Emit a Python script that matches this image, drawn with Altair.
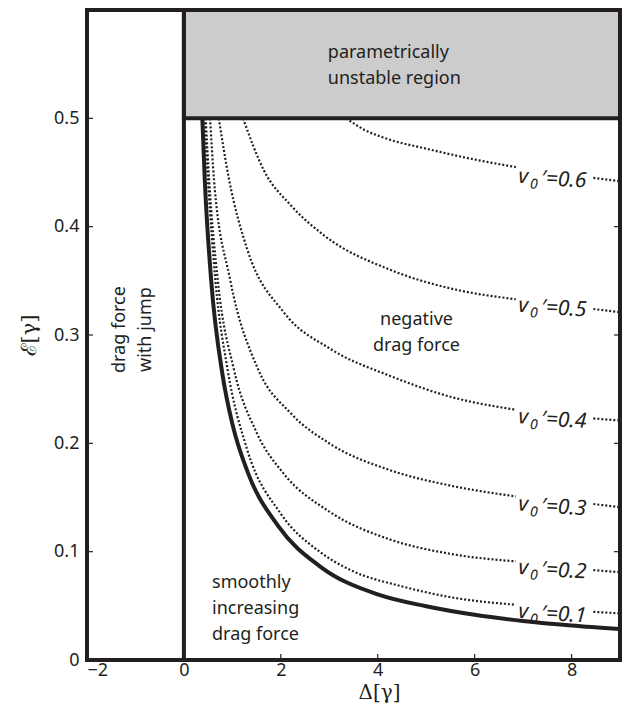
import altair as alt
import pandas as pd

INK = "#231f20"
FONT = "Noto Sans"

# ---- data ----
x_ticks = [-2, 0, 2, 4, 6, 8]
y_ticks = [0, 0.1, 0.2, 0.3, 0.4, 0.5]

# boundary curve (solid)
solid_delta = [0.38, 0.43, 0.56, 0.80, 1.00, 1.32, 1.94, 2.82, 4.0, 5.0, 6.0, 7.0, 8.0, 9.0]
solid_eps = [0.50, 0.444, 0.352, 0.2625, 0.218, 0.173, 0.124, 0.086, 0.0605, 0.0496, 0.0417, 0.036, 0.0318, 0.0285]

# dotted curves v0' = ...; part A before the label, part B after it
v_names = ["0.1", "0.2", "0.3", "0.4", "0.5", "0.6"]
v_delta_a = [
    [0.42, 0.50, 0.65, 0.90, 1.30, 2.00, 2.80, 3.44, 4.50, 5.50, 6.85],
    [0.45, 0.52, 0.70, 1.03, 1.50, 2.06, 3.00, 4.27, 5.50, 6.85],
    [0.54, 0.62, 0.95, 1.53, 2.20, 3.00, 4.27, 5.50, 6.85],
    [0.72, 0.93, 1.30, 2.06, 3.03, 4.27, 5.50, 6.85],
    [1.22, 1.65, 2.20, 2.89, 4.27, 5.50, 6.85],
    [3.35, 3.70, 4.20, 5.00, 6.00, 6.85],
]
v_eps_a = [
    [0.50, 0.44, 0.35, 0.2685, 0.195, 0.135, 0.100, 0.083, 0.068, 0.058, 0.051],
    [0.50, 0.444, 0.35, 0.2685, 0.21, 0.172, 0.137, 0.111, 0.098, 0.091],
    [0.50, 0.444, 0.352, 0.2685, 0.228, 0.200, 0.175, 0.161, 0.151],
    [0.50, 0.444, 0.38, 0.321, 0.287, 0.262, 0.243, 0.231],
    [0.50, 0.452, 0.42, 0.392, 0.360, 0.343, 0.333],
    [0.50, 0.490, 0.481, 0.472, 0.462, 0.455],
]
v_delta_b = [[8.45, 9.0]] * 6
v_eps_b = [
    [0.0445, 0.043],
    [0.083, 0.081],
    [0.144, 0.141],
    [0.223, 0.221],
    [0.324, 0.321],
    [0.445, 0.442],
]
label_delta = [6.9, 6.9, 6.9, 6.9, 6.9, 6.9]
label_eps = [0.0445, 0.085, 0.1435, 0.224, 0.327, 0.446]

regions = ["parametrically\nunstable region", "negative\ndrag force",
           "smoothly\nincreasing\ndrag force"]
region_delta = [2.97, 4.8, 0.58]
region_eps = [0.5603, 0.3138, 0.0713]
region_align = ["left", "center", "left"]

jump_text = ["drag force\nwith jump"]
jump_delta = [-1.32]
jump_eps = [0.305]

# ---- tables ----
solid_df = pd.DataFrame({"delta": solid_delta, "eps": solid_eps})
rows = []
for i, n in enumerate(v_names):
    for d, e in zip(v_delta_a[i], v_eps_a[i]):
        rows.append({"curve": n, "seg": n + "a", "delta": d, "eps": e})
    for d, e in zip(v_delta_b[i], v_eps_b[i]):
        rows.append({"curve": n, "seg": n + "b", "delta": d, "eps": e})
dot_df = pd.DataFrame(rows)
lab_df = pd.DataFrame({"delta": label_delta, "eps": label_eps,
                       "v": ["v"] * len(v_names), "sub": ["0"] * len(v_names),
                       "rest": ["\u2032=" + n for n in v_names]})
reg_df = pd.DataFrame({"delta": region_delta, "eps": region_eps, "text": regions,
                       "align": region_align})
jump_df = pd.DataFrame({"delta": jump_delta, "eps": jump_eps, "text": jump_text})
box_df = pd.DataFrame({"delta": [0], "delta2": [9], "eps": [0.5], "eps2": [0.6]})
vline_df = pd.DataFrame({"delta": [0]})
xt_df = pd.DataFrame({"delta": x_ticks})
yt_df = pd.DataFrame({"eps": [v for v in y_ticks if v > 0]})

W, H = 533, 650
xs = alt.Scale(domain=[-2, 9], nice=False, zero=False)
ys = alt.Scale(domain=[0, 0.6], nice=False, zero=False)

x_axis = alt.Axis(
    values=x_ticks, ticks=False, domain=False, grid=False,
    labelFont=FONT, labelFontSize=18, labelColor=INK, labelPadding=1,
    title="Δ[γ]", titleFont="DejaVu Serif", titleFontSize=20, titleFontWeight="normal",
    titleColor=INK, titlePadding=3, titleX=292)
y_axis = alt.Axis(
    values=y_ticks, ticks=False, domain=False, grid=False,
    labelExpr="datum.value == 0 ? '0' : format(datum.value, '.1f')",
    labelFont=FONT, labelFontSize=18, labelColor=INK, labelPadding=8,
    title="ℰ[γ]", titleFont="DejaVu Serif", titleFontSize=21, titleFontWeight="normal",
    titleColor=INK, titlePadding=14)


def X(f="delta"):
    return alt.X(f + ":Q", scale=xs, axis=x_axis, title="Δ[γ]")


def Y(f="eps"):
    return alt.Y(f + ":Q", scale=ys, axis=y_axis, title="ℰ[γ]")


dots = alt.Chart(dot_df).mark_line(
    color=INK, strokeWidth=2.2, strokeDash=[2, 2], interpolate="monotone", clip=True
).encode(x=X(), y=Y(), detail="seg:N")

box = alt.Chart(box_df).mark_rect(fill="#cccccc", stroke=INK, strokeWidth=4).encode(
    x=X(), x2="delta2:Q", y=Y(), y2="eps2:Q")

vline = alt.Chart(vline_df).mark_rule(color=INK, strokeWidth=4).encode(
    x=X(), y=alt.value(0), y2=alt.value(H))

solid = alt.Chart(solid_df).mark_line(
    color=INK, strokeWidth=4, interpolate="monotone", clip=True
).encode(x=X(), y=Y())

lab_v = alt.Chart(lab_df).mark_text(
    font=FONT, fontSize=21, fontStyle="italic", color=INK, align="left",
    baseline="middle", angle=3
).encode(x=X(), y=Y(), text="v:N")
lab_sub = alt.Chart(lab_df).mark_text(
    font=FONT, fontSize=14, fontStyle="italic", color=INK, align="left",
    baseline="middle", angle=3, dx=12, dy=7
).encode(x=X(), y=Y(), text="sub:N")
lab_rest = alt.Chart(lab_df).mark_text(
    font=FONT, fontSize=21, fontStyle="italic", color=INK, align="left",
    baseline="middle", angle=3, dx=23, dy=1
).encode(x=X(), y=Y(), text="rest:N")

reg_c = alt.Chart(reg_df[reg_df["align"] == "center"]).mark_text(
    font=FONT, fontSize=18, color=INK, align="center", baseline="middle",
    lineBreak="\n", lineHeight=26
).encode(x=X(), y=Y(), text="text:N")
reg_l = alt.Chart(reg_df[reg_df["align"] == "left"]).mark_text(
    font=FONT, fontSize=18, color=INK, align="left", baseline="middle",
    lineBreak="\n", lineHeight=26
).encode(x=X(), y=Y(), text="text:N")

jump = alt.Chart(jump_df).mark_text(
    font=FONT, fontSize=18, color=INK, align="center", baseline="middle",
    lineBreak="\n", lineHeight=26, angle=270
).encode(x=X(), y=Y(), text="text:N")

xt = alt.Chart(xt_df).mark_rule(color=INK, strokeWidth=1.2).encode(
    x=X(), y=alt.value(H), y2=alt.value(H - 6))
ytl = alt.Chart(yt_df).mark_rule(color=INK, strokeWidth=1.2).encode(
    y=Y(), x=alt.value(0), x2=alt.value(6))
ytr = alt.Chart(yt_df[yt_df["eps"] < 0.5]).mark_rule(color=INK, strokeWidth=1.2).encode(
    y=Y(), x=alt.value(W), x2=alt.value(W - 6))

chart = alt.layer(
    dots, box, vline, solid, lab_v, lab_sub, lab_rest, reg_c, reg_l, jump, xt, ytl, ytr
).properties(
    width=W, height=H,
    padding={"left": 87, "top": 10, "right": 4, "bottom": 51},
    autosize=alt.AutoSizeParams(type="none"),
    background="white",
).configure_view(stroke=INK, strokeWidth=4)

chart.save("out.html", embed_options={"renderer": "svg", "actions": False})
